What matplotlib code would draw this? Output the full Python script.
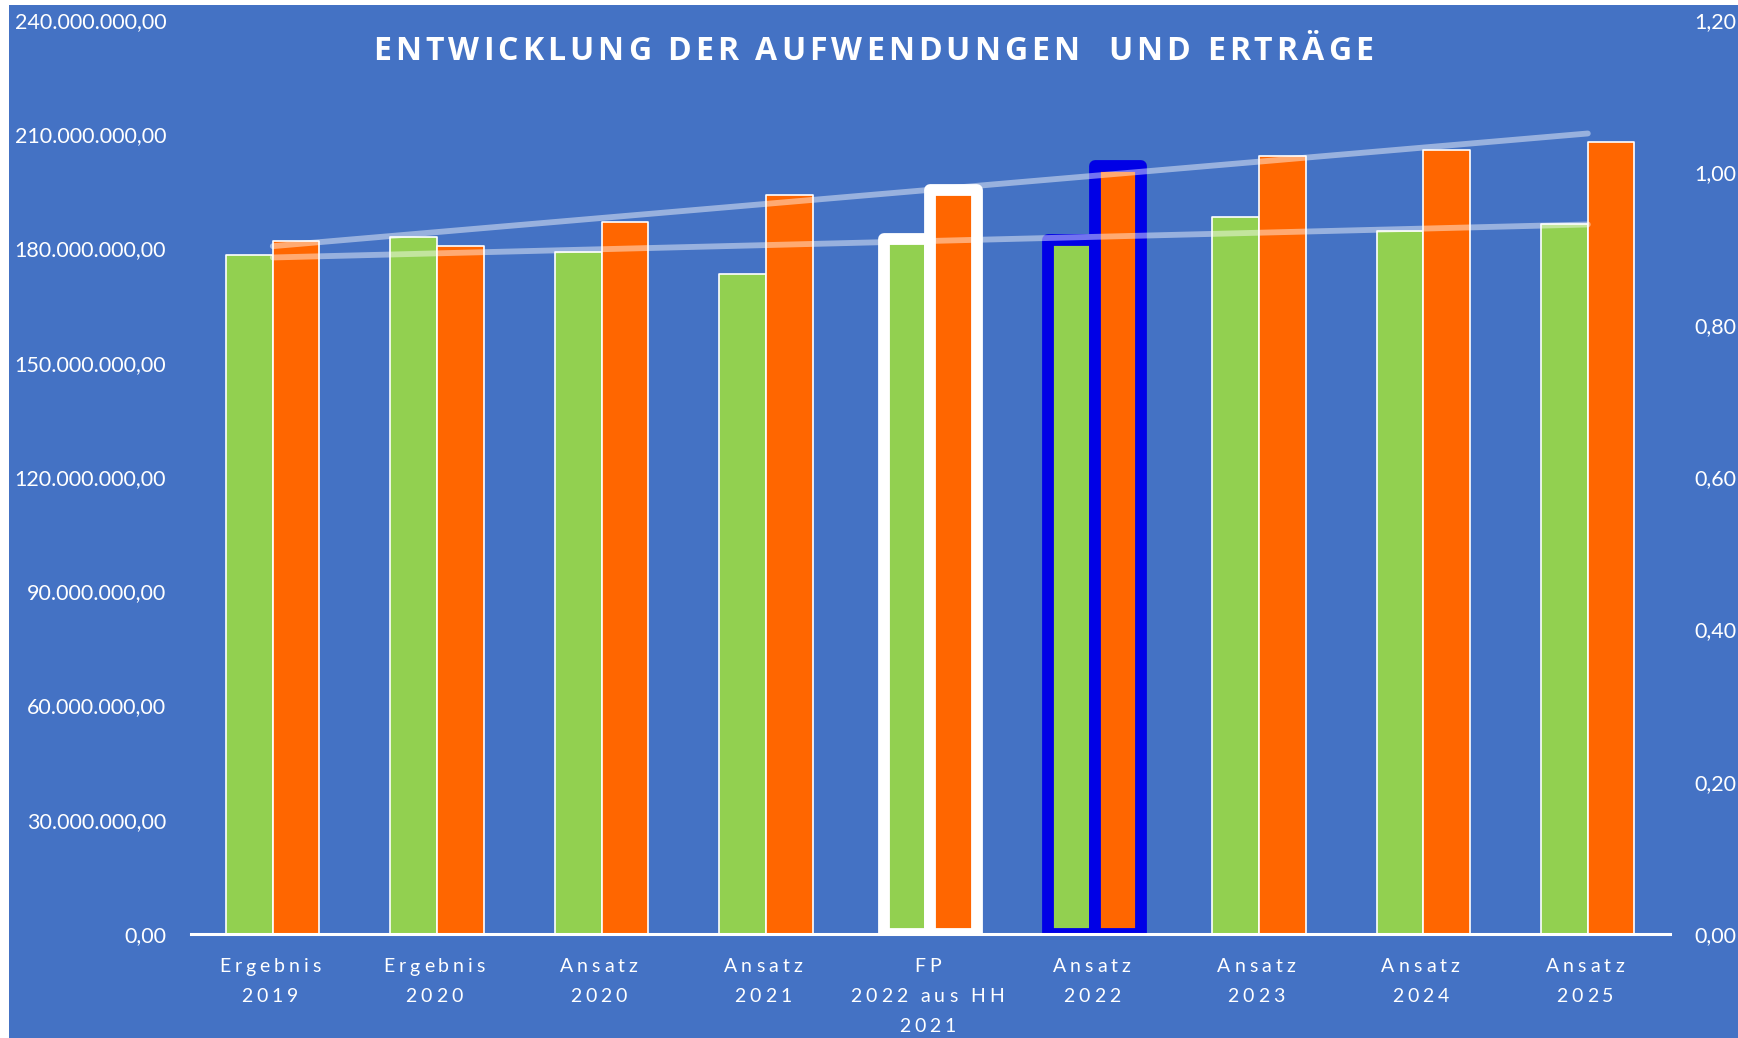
import matplotlib
matplotlib.use("Agg")
import matplotlib.pyplot as plt
from matplotlib.patches import Rectangle
from matplotlib.ticker import FuncFormatter, FixedLocator
from matplotlib.font_manager import FontProperties, findfont
from matplotlib.ft2font import FT2Font
import numpy as np

categories = ["Ergebnis\n2019", "Ergebnis\n2020", "Ansatz\n2020", "Ansatz\n2021",
              "FP\n2022 aus HH\n2021", "Ansatz\n2022", "Ansatz\n2023", "Ansatz\n2024", "Ansatz\n2025"]
green_vals = [178.3e6, 182.9e6, 179.1e6, 173.3e6, 182.6e6, 182.3e6, 188.2e6, 184.7e6, 186.4e6]
orange_vals = [182.0e6, 180.6e6, 187.0e6, 194.0e6, 195.4e6, 201.6e6, 204.2e6, 205.9e6, 208.0e6]
left_ticks = [0, 30e6, 60e6, 90e6, 120e6, 150e6, 180e6, 210e6, 240e6]
right_ticks = [0.0, 0.2, 0.4, 0.6, 0.8, 1.0, 1.2]
title = "ENTWICKLUNG DER AUFWENDUNGEN  UND ERTRÄGE"

BG = "#4472C4"
GREEN = "#92D050"
ORANGE = "#FF6600"
EDGE_BLUE = "#0000E6"
FONT = ["Lato", "DejaVu Sans"]

plt.rcParams['font.family'] = FONT

W, H = 1738, 1038
DPI = 100
fig = plt.figure(figsize=(W / DPI, H / DPI), dpi=DPI, facecolor="white")
fig.patches.append(Rectangle((9 / W, 0), 1 - 9 / W, 1 - 5 / H, transform=fig.transFigure,
                             facecolor=BG, edgecolor="none", zorder=-10))


def advances(s, fp):
    font = FT2Font(findfont(fp))
    font.set_size(fp.get_size_in_points(), DPI)
    out = []
    for ch in s:
        g = font.load_char(ord(ch))
        out.append(g.linearHoriAdvance / 65536.0)
    return out


def spaced_text(xc_px, y_px, s, size, spacing_px=None, target_px=None,
                weight="normal", family="Lato"):
    """Single line of text centered at xc_px with letter spacing."""
    fp = FontProperties(family=family, weight=weight, size=size)
    widths = advances(s, fp)
    if target_px is not None:
        spacing_px = (target_px - sum(widths)) / (len(s) - 1)
    total = sum(widths) + spacing_px * (len(s) - 1)
    xpos = xc_px - total / 2
    for ch, w in zip(s, widths):
        if ch != " ":
            fig.text(xpos / W, 1 - y_px / H, ch, ha="left", va="center", color="white",
                     fontproperties=fp)
        xpos += w + spacing_px


ax_left, ax_right, ax_bot, ax_top = 190.6, 1670.0, 934.0, 20.0
ax = fig.add_axes([ax_left / W, 1 - ax_bot / H, (ax_right - ax_left) / W, (ax_bot - ax_top) / H])
ax.set_facecolor("none")
x = np.arange(len(categories))
bw = 0.284

edgecolors = ["white"] * len(categories)
edgewidths = [1.2] * len(categories)
edgecolors[4] = "white"
edgewidths[4] = 8.5
edgecolors[5] = EDGE_BLUE
edgewidths[5] = 8.5

for i in range(len(categories)):
    ax.bar(x[i] - bw / 2, green_vals[i], width=bw, color=GREEN, edgecolor=edgecolors[i],
           linewidth=edgewidths[i], joinstyle="round", zorder=2)
    ax.bar(x[i] + bw / 2, orange_vals[i], width=bw, color=ORANGE, edgecolor=edgecolors[i],
           linewidth=edgewidths[i], joinstyle="round", zorder=2)

# linear trend lines
for vals in (orange_vals, green_vals):
    k, d = np.polyfit(x, vals, 1)
    ax.plot([x[0], x[-1]], [d + k * x[0], d + k * x[-1]], color="white", alpha=0.45,
            lw=4.2, solid_capstyle="round", zorder=3)

ax.set_xlim(-0.5, len(categories) - 0.5)
ax.set_ylim(0, 240e6)
ax.yaxis.set_major_locator(FixedLocator(left_ticks))


def de_fmt(v, pos=None):
    s = f"{v:,.2f}"
    return s.replace(",", "X").replace(".", ",").replace("X", ".")


ax.yaxis.set_major_formatter(FuncFormatter(de_fmt))
ax.set_xticks(x)
ax.set_xticklabels([""] * len(categories))
ax.tick_params(axis="x", length=0)
ax.tick_params(axis="y", length=0, pad=17.5, colors="white", labelsize=15.5)
for s in ("top", "left", "right"):
    ax.spines[s].set_visible(False)
ax.spines["bottom"].set_color("white")
ax.spines["bottom"].set_linewidth(2.2)
ax.spines["bottom"].set_zorder(4)

# category labels with letter spacing
cat_w = (ax_right - ax_left) / len(categories)
for i, lab in enumerate(categories):
    xc = ax_left + cat_w * (i + 0.5) - 3
    for j, line in enumerate(lab.split("\n")):
        spaced_text(xc, 967 + j * 30, line, 14, spacing_px=4.0)

ax2 = ax.twinx()
ax2.set_ylim(0, 1.2)
ax2.yaxis.set_major_locator(FixedLocator(right_ticks))
ax2.yaxis.set_major_formatter(FuncFormatter(lambda v, p: f"{v:.2f}".replace(".", ",")))
ax2.tick_params(axis="y", length=0, pad=17.5, colors="white", labelsize=15.5)
for s in ax2.spines.values():
    s.set_visible(False)

spaced_text(873, 52, title, 23, target_px=1000, weight="bold", family="Open Sans")

fig.savefig("out.png", dpi=DPI, facecolor="white")
